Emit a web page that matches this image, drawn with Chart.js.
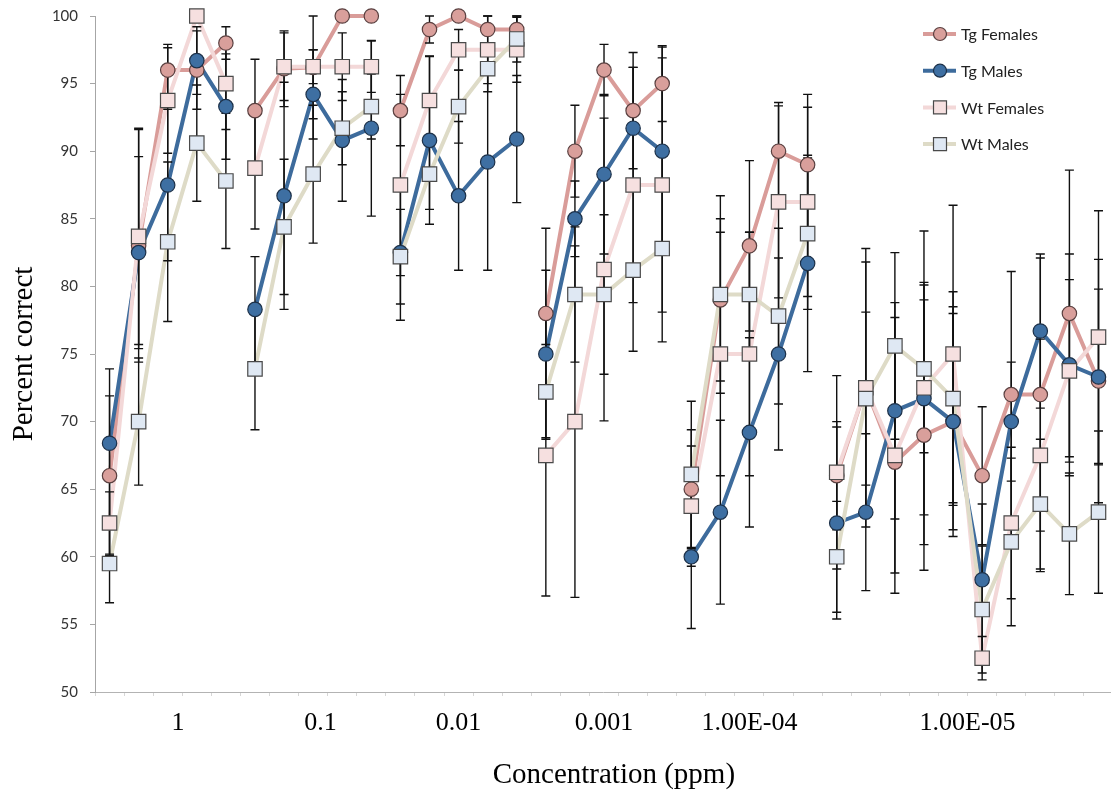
<!DOCTYPE html>
<html>
<head>
<meta charset="utf-8">
<script src="https://cdn.jsdelivr.net/npm/chart.js@4.4.1/dist/chart.umd.min.js"></script>
<style>
  html, body { margin: 0; padding: 0; background: #fff; }
  #wrap { width: 1111px; height: 793px; position: relative; }
</style>
</head>
<body>
<div id="wrap"><canvas id="chartConc"></canvas></div>
<script>
// groups of points joined by a line (one group per concentration)
const groupSizes = [5, 5, 5, 5, 5, 10];
const concLabels = ['1', '0.1', '0.01', '0.001', '1.00E-04', '1.00E-05'];
const concTickPos = [2.35, 7.25, 12, 17, 22, 29.5];

const tgFemales = [66, 83, 96, 96, 98, 93, 96.1, 96.2, 100, 100, 93, 99, 100, 99, 99,
  78, 90, 96, 93, 95, 65, 79, 83, 90, 89, 66, 72.5, 67, 69, 70, 66, 72, 72, 78, 73];
const tgFemalesErr = [5.9, 8.6, 1.9, 2.9, 1.2, 3.8, 2.8, 3.8, 0, 0, 2.6, 1, 0, 1, 1,
  6.3, 3.4, 1.9, 4.3, 2.8, 4.4, 6, 6.3, 3.6, 5.2, 4, 9.3, 8.2, 10, 8.5, 5.1, 9.1, 10.1, 10.6, 9];

const tgMales = [68.4, 82.5, 87.5, 96.7, 93.3, 78.3, 86.7, 94.2, 90.8, 91.7, 82.5, 90.8, 86.7, 89.2, 90.9,
  75, 85, 88.3, 91.7, 90, 60, 63.3, 69.2, 75, 81.7, 62.5, 63.3, 70.8, 71.7, 70, 58.3, 70, 76.7, 74.2, 73.3];
const tgMalesErr = [5.5, 7.1, 5.6, 2.5, 3.9, 3.9, 8.4, 3.3, 4.5, 6.5, 5, 6.2, 5.5, 8, 4.7,
  6.2, 2.8, 5.9, 4.5, 7.7, 5.3, 6.8, 7, 7.1, 8, 7.1, 5.8, 8, 8.6, 8, 5.6, 4.4, 5.7, 8.2, 6.5];

const wtFemales = [62.5, 83.7, 93.75, 100, 95, 88.75, 96.25, 96.25, 96.25, 96.25, 87.5, 93.75, 97.5, 97.5, 97.5,
  67.5, 70, 81.25, 87.5, 87.5, 63.75, 75, 75, 86.25, 86.25, 66.25, 72.5, 67.5, 72.5, 75, 52.5, 62.5, 67.5, 73.75, 76.25];
const wtFemalesErr = [2.3, 8, 3.9, 0, 3.4, 4.5, 2.5, 1.25, 2.5, 1.9, 6.7, 3.3, 1.5, 2.5, 2.4,
  10.4, 13, 11.2, 8.7, 9.4, 4.45, 9, 9, 7.1, 7, 7.15, 10.3, 10.2, 11.6, 11, 1.6, 5.6, 8.6, 6.75, 9.35];

const wtMales = [59.5, 70, 83.3, 90.6, 87.8, 73.9, 84.4, 88.3, 91.7, 93.3, 82.2, 88.3, 93.3, 96.1, 98.3,
  72.2, 79.4, 79.4, 81.2, 82.8, 66.1, 79.4, 79.4, 77.8, 83.9, 60, 71.7, 75.6, 73.9, 71.7, 56.1, 61.1, 63.9, 61.7, 63.3];
const wtMalesErr = [2.9, 4.7, 5.9, 4.3, 5, 4.5, 5, 5.1, 2.7, 2.4, 3.5, 2.6, 2.7, 1.7, 1.7,
  3.5, 5, 5.9, 6, 6.9, 5.4, 7.3, 4.6, 6.5, 5.6, 4.1, 6.4, 6.9, 6.2, 7.9, 4.7, 6.2, 4.8, 4.5, 6];

const groupOf = [];
groupSizes.forEach((n, g) => { for (let k = 0; k < n; k++) groupOf.push(g); });
const nPoints = groupOf.length;

const series = [
  { label: 'Tg Females', values: tgFemales, err: tgFemalesErr, line: '#d99c99', fill: '#d99f9b', edge: '#5a4040', style: 'circle' },
  { label: 'Tg Males', values: tgMales, err: tgMalesErr, line: '#3d6b9c', fill: '#3e6fa2', edge: '#1d3149', style: 'circle' },
  { label: 'Wt Females', values: wtFemales, err: wtFemalesErr, line: '#f3d8d8', fill: '#f6e0e0', edge: '#4a4a4a', style: 'rect' },
  { label: 'Wt Males', values: wtMales, err: wtMalesErr, line: '#dedbc7', fill: '#dfe8f3', edge: '#4a4a4a', style: 'rect' }
];

const toPoints = arr => arr.map((v, i) => ({ x: i, y: v }));

const datasets = [];
// lines first (drawn underneath), then the markers
series.forEach((s, k) => {
  datasets.push({
    label: s.label + ' line',
    data: toPoints(s.values),
    borderColor: s.line,
    borderWidth: 4,
    pointRadius: 0,
    tension: 0,
    order: 8 - k,
    clip: false,
    lastLine: k === series.length - 1,
    segment: {
      borderColor: ctx => groupOf[ctx.p0DataIndex] === groupOf[ctx.p1DataIndex] ? undefined : 'rgba(0,0,0,0)'
    }
  });
});
series.forEach((s, k) => {
  datasets.push({
    label: s.label,
    data: toPoints(s.values),
    showLine: false,
    pointStyle: s.style,
    pointRadius: s.style === 'rect' ? 10.2 : 7.2,
    pointBackgroundColor: s.fill,
    pointBorderColor: s.edge,
    pointBorderWidth: 1.2,
    order: 4 - k,
    clip: false,
    series: s
  });
});

// black error bars, drawn after the last line and before the markers
const errorBars = {
  id: 'errorBars',
  afterDatasetDraw(chart, args) {
    if (!chart.data.datasets[args.index].lastLine) return;
    const { ctx, scales: { x, y } } = chart;
    ctx.save();
    ctx.strokeStyle = '#111';
    ctx.lineWidth = 1.4;
    series.forEach(s => {
      s.values.forEach((v, i) => {
        const e = s.err[i];
        if (!e) return;
        const px = x.getPixelForValue(i);
        const top = y.getPixelForValue(v + e);
        const bot = y.getPixelForValue(v - e);
        ctx.beginPath();
        ctx.moveTo(px, top); ctx.lineTo(px, bot);
        ctx.moveTo(px - 4.5, top); ctx.lineTo(px + 4.5, top);
        ctx.moveTo(px - 4.5, bot); ctx.lineTo(px + 4.5, bot);
        ctx.stroke();
      });
    });
    ctx.restore();
  }
};

// legend with a line sample and marker, top right
const lineLegend = {
  id: 'lineLegend',
  afterDraw(chart) {
    const ctx = chart.ctx;
    ctx.save();
    ctx.font = '16px Lato';
    ctx.textBaseline = 'middle';
    series.forEach((s, k) => {
      const yy = 34 + k * 36.7;
      ctx.strokeStyle = s.line;
      ctx.lineWidth = 4;
      ctx.beginPath();
      ctx.moveTo(923, yy); ctx.lineTo(956, yy);
      ctx.stroke();
      ctx.fillStyle = s.fill;
      ctx.strokeStyle = s.edge;
      ctx.lineWidth = 1.2;
      ctx.beginPath();
      if (s.style === 'circle') ctx.arc(940, yy, 6.5, 0, Math.PI * 2);
      else ctx.rect(933.5, yy - 6.5, 13, 13);
      ctx.fill();
      ctx.stroke();
      ctx.fillStyle = '#222';
      ctx.fillText(s.label, 961, yy + 1);
    });
    ctx.restore();
  }
};

const isBoundary = v => Math.abs(v + 0.5 - Math.round(v + 0.5)) < 1e-6;

const ctx = document.getElementById('chartConc').getContext('2d');
const chart = new Chart(ctx, {
  type: 'line',
  data: { datasets },
  plugins: [errorBars, lineLegend],
  options: {
    responsive: true,
    maintainAspectRatio: false,
    animation: false,
    layout: { autoPadding: false, padding: { top: 16, right: 0, bottom: 0, left: 0 } },
    plugins: {
      legend: { display: false },
      tooltip: { enabled: false }
    },
    scales: {
      x: {
        type: 'linear',
        min: -0.5,
        max: 34.43,
        afterBuildTicks: axis => {
          const vals = [];
          for (let b = -0.5; b < nPoints - 0.5; b += 1) vals.push(b);
          concTickPos.forEach(p => { if (!vals.some(v => Math.abs(v - p) < 1e-6)) vals.push(p); });
          vals.sort((a, b) => a - b);
          axis.ticks = vals.map(v => ({ value: v }));
        },
        afterFit: s => { s.height = 101; },
        ticks: {
          autoSkip: false,
          maxRotation: 0,
          padding: 12,
          color: '#000',
          font: { family: 'Liberation Serif', size: 26 },
          callback: v => {
            const k = concTickPos.findIndex(p => Math.abs(p - v) < 1e-6);
            return k >= 0 ? concLabels[k] : '';
          }
        },
        grid: {
          drawOnChartArea: false,
          tickLength: 4,
          tickColor: c => (c.tick && isBoundary(c.tick.value)) ? '#d6d6d6' : 'rgba(0,0,0,0)'
        },
        border: { color: '#b3b3b3', width: 1 },
        title: {
          display: true,
          text: '   Concentration (ppm)',
          color: '#000',
          font: { family: 'Liberation Serif', size: 29 },
          padding: { top: 0, bottom: 0 }
        }
      },
      y: {
        min: 50,
        max: 100,
        afterFit: s => { s.width = 95; s.paddingTop = 0; s.paddingBottom = 0; },
        ticks: {
          stepSize: 5,
          padding: 12,
          color: '#333',
          font: { family: 'Lato', size: 15 }
        },
        grid: { drawOnChartArea: false, tickLength: 5, tickColor: '#a6a6a6' },
        border: { color: '#a6a6a6', width: 1 },
        title: {
          display: true,
          text: 'Percent correct',
          color: '#000',
          font: { family: 'Liberation Serif', size: 29 },
          padding: { top: 7, bottom: 0 }
        }
      }
    }
  }
});
</script>
</body>
</html>
